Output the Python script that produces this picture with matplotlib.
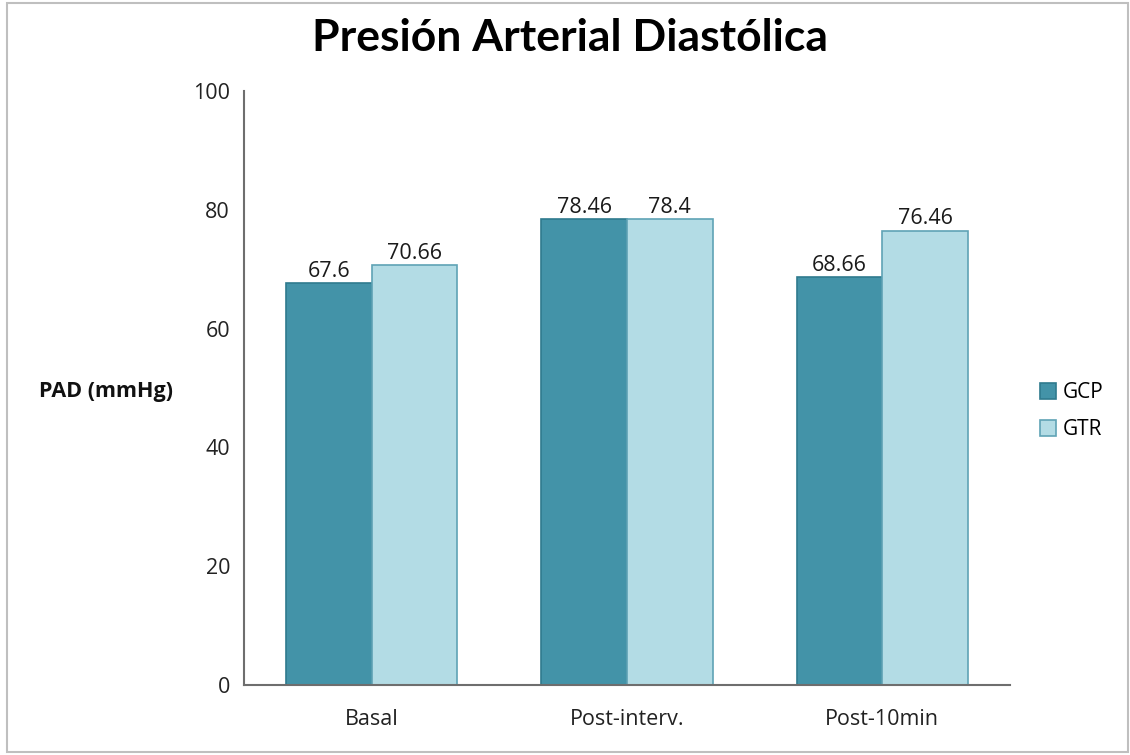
import matplotlib
matplotlib.use("Agg")
import matplotlib.pyplot as plt
from matplotlib.patches import Rectangle
import numpy as np

categories = ["Basal", "Post-interv.", "Post-10min"]
series_names = ["GCP", "GTR"]
gcp_values = [67.6, 78.46, 68.66]
gtr_values = [70.66, 78.4, 76.46]
gcp_labels = ["67.6", "78.46", "68.66"]
gtr_labels = ["70.66", "78.4", "76.46"]
y_ticks = [0, 20, 40, 60, 80, 100]

gcp_face, gcp_edge = "#4393A8", "#2F7A8E"
gtr_face, gtr_edge = "#B3DCE5", "#5FA3B5"

W, H = 1130, 755
fig = plt.figure(figsize=(W / 100, H / 100), dpi=100)
fig.patch.set_facecolor("white")

# chart frame
fig.add_artist(Rectangle((7 / W, 3 / H), (1121 / W), (749 / H), transform=fig.transFigure,
                         fill=False, edgecolor="#BFBFBF", linewidth=1.5))

ax = fig.add_axes([244 / W, (H - 685) / H, (1010 - 244) / W, (685 - 91) / H])

x = np.arange(len(categories))
bw = 0.335
b1 = ax.bar(x - bw / 2, gcp_values, bw, color=gcp_face, edgecolor=gcp_edge, linewidth=1.2,
            label=series_names[0])
b2 = ax.bar(x + bw / 2, gtr_values, bw, color=gtr_face, edgecolor=gtr_edge, linewidth=1.2,
            label=series_names[1])

txt_font = "Open Sans"
fs = 15.5
for bars, labels in ((b1, gcp_labels), (b2, gtr_labels)):
    for rect, lab in zip(bars, labels):
        ax.annotate(lab, (rect.get_x() + rect.get_width() / 2, rect.get_height()),
                    xytext=(0, 1), textcoords="offset points", ha="center", va="bottom",
                    fontsize=fs, family=txt_font, color="#1a1a1a")

ax.set_xlim(-0.5, len(categories) - 0.5)
ax.set_ylim(0, 100)
ax.set_yticks(y_ticks)
ax.set_yticklabels([str(t) for t in y_ticks], family=txt_font, fontsize=fs, color="#222222")
ax.set_xticks(x)
ax.set_xticklabels(categories, family=txt_font, fontsize=fs, color="#222222")
ax.tick_params(axis="both", length=0)
ax.tick_params(axis="y", pad=10)
ax.tick_params(axis="x", pad=17)

for s in ("top", "right"):
    ax.spines[s].set_visible(False)
for s in ("left", "bottom"):
    ax.spines[s].set_color("#6E6E6E")
    ax.spines[s].set_linewidth(1.5)

fig.text(106 / W, 1 - 392 / H, "PAD (mmHg)", ha="center", va="center",
         fontsize=fs, fontweight="bold", family=txt_font, color="#111111")

fig.text(570 / W, 1 - 38 / H, "Presión Arterial Diastólica", ha="center", va="center",
         fontsize=32, fontweight="bold", family="Lato", color="black")

leg = fig.legend(handles=[b1, b2], labels=series_names, loc="center left",
                 bbox_to_anchor=(1021 / W, 1 - 411 / H), frameon=False,
                 prop={"family": txt_font, "size": 15}, handlelength=0.8, handleheight=0.8,
                 handletextpad=0.3, labelspacing=0.75)

fig.savefig("out.png", dpi=100, facecolor="white")
